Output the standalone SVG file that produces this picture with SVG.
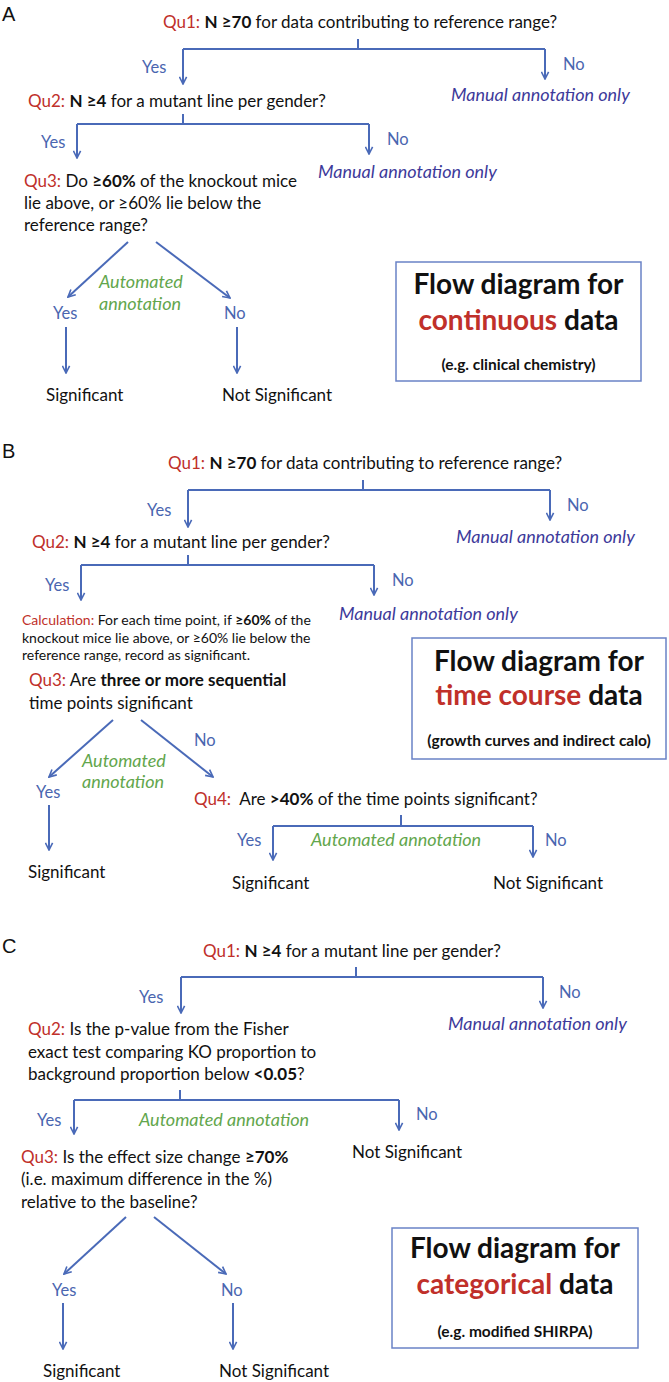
<svg xmlns="http://www.w3.org/2000/svg" width="669" height="1382" viewBox="0 0 669 1382">
<style>
text{font-family:Lato,"Liberation Sans",sans-serif;font-size:17px;fill:#111}
.lbl{font-family:"Liberation Sans",Arial,sans-serif;font-size:20px}
.q{fill:#c0302a}
.b{font-weight:bold}
.yn{fill:#4a66b0;font-size:16.5px}
.man{fill:#3d3a9a;font-style:italic;font-size:18px}
.auto{fill:#62a64c;font-style:italic;font-size:18px}
.calc{font-size:14px}
.ttl{font-size:28px;font-weight:bold}
.sub{font-size:15.5px;font-weight:bold}
.box{fill:#fff;stroke:#6a82c6;stroke-width:1.5}
#connectors path{stroke:#4a6ab8;stroke-width:2;fill:none}
</style>
<defs>
<marker id="ah" viewBox="0 0 10 10" refX="9" refY="5" markerUnits="userSpaceOnUse" markerWidth="9" markerHeight="9" orient="auto">
<path d="M1,1 L9,5 L1,9" fill="none" stroke="#4a6ab8" stroke-width="1.8"/>
</marker>
</defs>
<rect width="669" height="1382" fill="#fff"/>

<g id="connectors">
<!-- A -->
<path d="M358,39 V49"/>
<path d="M183,49 H545"/>
<path d="M183,49 V84" marker-end="url(#ah)"/>
<path d="M545,49 V79" marker-end="url(#ah)"/>
<path d="M183,114 V124"/>
<path d="M77,124 H369"/>
<path d="M77,124 V158" marker-end="url(#ah)"/>
<path d="M369,124 V154" marker-end="url(#ah)"/>
<path d="M128,242 L68,297" marker-end="url(#ah)"/>
<path d="M156,242 L230,298" marker-end="url(#ah)"/>
<path d="M66,327 V373" marker-end="url(#ah)"/>
<path d="M237,327 V373" marker-end="url(#ah)"/>
<!-- B -->
<path d="M363,480 V490"/>
<path d="M188,490 H550"/>
<path d="M188,490 V527" marker-end="url(#ah)"/>
<path d="M550,490 V520" marker-end="url(#ah)"/>
<path d="M188,555 V565"/>
<path d="M81,565 H374"/>
<path d="M81,565 V600" marker-end="url(#ah)"/>
<path d="M374,565 V595" marker-end="url(#ah)"/>
<path d="M113,720 L49,777" marker-end="url(#ah)"/>
<path d="M141,720 L213,777" marker-end="url(#ah)"/>
<path d="M49,805 V850" marker-end="url(#ah)"/>
<path d="M401,815 V826"/>
<path d="M273,826 H533"/>
<path d="M273,826 V860" marker-end="url(#ah)"/>
<path d="M533,826 V857" marker-end="url(#ah)"/>
<!-- C -->
<path d="M356,967 V977"/>
<path d="M181,977 H543"/>
<path d="M181,977 V1013" marker-end="url(#ah)"/>
<path d="M543,977 V1008" marker-end="url(#ah)"/>
<path d="M180,1090 V1100"/>
<path d="M74,1100 H399"/>
<path d="M74,1100 V1134" marker-end="url(#ah)"/>
<path d="M399,1100 V1130" marker-end="url(#ah)"/>
<path d="M126,1217 L64,1274" marker-end="url(#ah)"/>
<path d="M154,1217 L226,1274" marker-end="url(#ah)"/>
<path d="M63,1303 V1349" marker-end="url(#ah)"/>
<path d="M233,1303 V1349" marker-end="url(#ah)"/>
</g>

<!-- Section A -->
<g id="A-label"><text class="lbl" x="2" y="21">A</text></g>
<g id="A-qu1"><text x="163" y="28"><tspan class="q">Qu1:</tspan> <tspan class="b">N ≥70</tspan> for data contributing to reference range?</text></g>
<g id="A-yes1"><text class="yn" x="142" y="73">Yes</text></g>
<g id="A-no1"><text class="yn" x="563" y="70">No</text></g>
<g id="A-manual1"><text class="man" x="451" y="101">Manual annotation only</text></g>
<g id="A-qu2"><text x="28" y="107"><tspan class="q">Qu2:</tspan> <tspan class="b">N ≥4</tspan> for a mutant line per gender?</text></g>
<g id="A-yes2"><text class="yn" x="41" y="148">Yes</text></g>
<g id="A-no2"><text class="yn" x="387" y="145">No</text></g>
<g id="A-manual2"><text class="man" x="318" y="178">Manual annotation only</text></g>
<g id="A-qu3">
<text x="24" y="187"><tspan class="q">Qu3:</tspan> Do <tspan class="b">≥60%</tspan> of the knockout mice</text>
<text x="24" y="209">lie above, or ≥60% lie below the</text>
<text x="24" y="231">reference range?</text>
</g>
<g id="A-auto"><text class="auto" x="99" y="288">Automated</text><text class="auto" x="99" y="310">annotation</text></g>
<g id="A-yes3"><text class="yn" x="53" y="319">Yes</text></g>
<g id="A-no3"><text class="yn" x="224" y="319">No</text></g>
<g id="A-sig"><text x="46" y="401">Significant</text></g>
<g id="A-notsig"><text x="222" y="401">Not Significant</text></g>
<g id="A-box">
<rect class="box" x="396" y="262" width="245" height="119"/>
<text class="ttl" x="518.5" y="294" text-anchor="middle">Flow diagram for</text>
<text class="ttl" x="518.5" y="330" text-anchor="middle"><tspan class="q">continuous</tspan> data</text>
<text class="sub" x="518.5" y="370" text-anchor="middle">(e.g. clinical chemistry)</text>
</g>

<!-- Section B -->
<g id="B-label"><text class="lbl" x="2" y="458">B</text></g>
<g id="B-qu1"><text x="168" y="469"><tspan class="q">Qu1:</tspan> <tspan class="b">N ≥70</tspan> for data contributing to reference range?</text></g>
<g id="B-yes1"><text class="yn" x="147" y="516">Yes</text></g>
<g id="B-no1"><text class="yn" x="567" y="511">No</text></g>
<g id="B-manual1"><text class="man" x="456" y="543">Manual annotation only</text></g>
<g id="B-qu2"><text x="32" y="548"><tspan class="q">Qu2:</tspan> <tspan class="b">N ≥4</tspan> for a mutant line per gender?</text></g>
<g id="B-yes2"><text class="yn" x="45" y="591">Yes</text></g>
<g id="B-no2"><text class="yn" x="392" y="586">No</text></g>
<g id="B-manual2"><text class="man" x="339" y="620">Manual annotation only</text></g>
<g id="B-calc">
<text class="calc" x="22" y="625"><tspan class="q">Calculation:</tspan> For each time point, if <tspan class="b">≥60%</tspan> of the</text>
<text class="calc" x="22" y="643">knockout mice lie above, or ≥60% lie below the</text>
<text class="calc" x="22" y="660">reference range, record as significant.</text>
</g>
<g id="B-qu3">
<text x="29" y="686"><tspan class="q">Qu3:</tspan> Are <tspan class="b">three or more sequential</tspan></text>
<text x="29" y="709">time points significant</text>
</g>
<g id="B-no3"><text class="yn" x="194" y="746">No</text></g>
<g id="B-auto1"><text class="auto" x="82" y="767">Automated</text><text class="auto" x="82" y="788">annotation</text></g>
<g id="B-yes3"><text class="yn" x="36" y="798">Yes</text></g>
<g id="B-sig1"><text x="28" y="878">Significant</text></g>
<g id="B-qu4"><text x="194" y="805" xml:space="preserve"><tspan class="q">Qu4:</tspan>  Are <tspan class="b">&gt;40%</tspan> of the time points significant?</text></g>
<g id="B-yes4"><text class="yn" x="237" y="846">Yes</text></g>
<g id="B-auto2"><text class="auto" x="311" y="846">Automated annotation</text></g>
<g id="B-no4"><text class="yn" x="545" y="846">No</text></g>
<g id="B-sig2"><text x="232" y="889">Significant</text></g>
<g id="B-notsig"><text x="493" y="889">Not Significant</text></g>
<g id="B-box">
<rect class="box" x="412" y="638" width="254" height="121"/>
<text class="ttl" x="539" y="671" text-anchor="middle">Flow diagram for</text>
<text class="ttl" x="539" y="705" text-anchor="middle"><tspan class="q">time course</tspan> data</text>
<text class="sub" x="539" y="746" text-anchor="middle">(growth curves and indirect calo)</text>
</g>

<!-- Section C -->
<g id="C-label"><text class="lbl" x="2" y="953">C</text></g>
<g id="C-qu1"><text x="203" y="957"><tspan class="q">Qu1:</tspan> <tspan class="b">N ≥4</tspan> for a mutant line per gender?</text></g>
<g id="C-yes1"><text class="yn" x="139" y="1003">Yes</text></g>
<g id="C-no1"><text class="yn" x="559" y="998">No</text></g>
<g id="C-manual1"><text class="man" x="448" y="1030">Manual annotation only</text></g>
<g id="C-qu2">
<text x="28" y="1035"><tspan class="q">Qu2:</tspan> Is the p-value from the Fisher</text>
<text x="28" y="1058">exact test comparing KO proportion to</text>
<text x="28" y="1080">background proportion below <tspan class="b">&lt;0.05</tspan>?</text>
</g>
<g id="C-yes2"><text class="yn" x="37" y="1126">Yes</text></g>
<g id="C-auto"><text class="auto" x="139" y="1126">Automated annotation</text></g>
<g id="C-no2"><text class="yn" x="416" y="1120">No</text></g>
<g id="C-notsig1"><text x="352" y="1158">Not Significant</text></g>
<g id="C-qu3">
<text x="21" y="1163"><tspan class="q">Qu3:</tspan> Is the effect size change <tspan class="b">≥70%</tspan></text>
<text x="21" y="1185">(i.e. maximum difference in the %)</text>
<text x="21" y="1208">relative to the baseline?</text>
</g>
<g id="C-yes3"><text class="yn" x="52" y="1296">Yes</text></g>
<g id="C-no3"><text class="yn" x="221" y="1296">No</text></g>
<g id="C-sig"><text x="43" y="1377">Significant</text></g>
<g id="C-notsig2"><text x="219" y="1377">Not Significant</text></g>
<g id="C-box">
<rect class="box" x="392" y="1228" width="246" height="120"/>
<text class="ttl" x="515" y="1258" text-anchor="middle">Flow diagram for</text>
<text class="ttl" x="515" y="1294" text-anchor="middle"><tspan class="q">categorical</tspan> data</text>
<text class="sub" x="515" y="1337" text-anchor="middle">(e.g. modified SHIRPA)</text>
</g>
</svg>
